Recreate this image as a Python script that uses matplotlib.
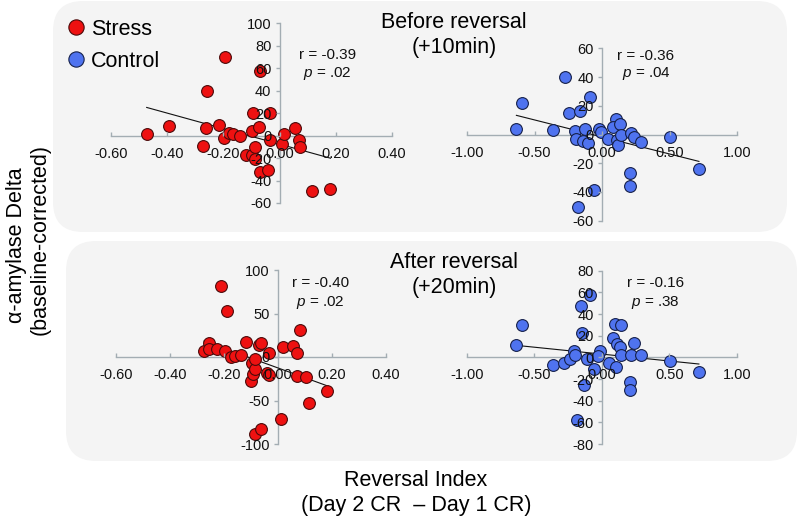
import numpy as np
import matplotlib
matplotlib.use("Agg")
import matplotlib.pyplot as plt
from matplotlib.patches import FancyBboxPatch
from matplotlib.lines import Line2D

plt.rcParams['font.family'] = ['Liberation Sans', 'DejaVu Sans']
plt.rcParams['mathtext.fontset'] = 'custom'
plt.rcParams['mathtext.it'] = 'Liberation Sans:italic'
plt.rcParams['mathtext.rm'] = 'Liberation Sans'

# ---------------- data ----------------
stress_before_x = [-0.473, -0.393, -0.260, -0.194, -0.262, -0.274, -0.217, -0.198, -0.179, -0.165,
                   -0.141, -0.120, -0.099, -0.096, -0.099, -0.075, -0.087, -0.089, -0.068, -0.068,
                   -0.040, -0.035, -0.035, 0.010, 0.017, 0.055, 0.069, 0.072, 0.114, 0.181]
stress_before_y = [1.3, 8.7, 39.6, 70.4, 6.4, -9.0, 9.6, -2.2, 2.2, 1.6,
                   -0.7, -17.6, -17.6, 19.7, 3.7, 7.3, -10.2, -20.6, 57.9, -32.7,
                   -30.4, 19.7, -3.7, -7.9, 1.3, 6.4, -3.7, -10.2, -49.0, -47.6]

control_before_x = [-0.634, -0.589, -0.361, -0.277, -0.243, -0.163, -0.089, -0.198, -0.193, -0.129,
                    -0.139, -0.104, -0.059, -0.178, -0.025, -0.010, 0.045, 0.104, 0.084, 0.134,
                    0.109, 0.119, 0.144, 0.218, 0.238, 0.287, 0.208, 0.208, 0.505, 0.718]
control_before_y = [4.1, 21.7, 3.1, 40.3, 15.2, 16.6, 25.9, 2.7, -2.9, 4.1,
                    -4.3, -6.1, -38.6, -50.2, 4.1, 1.7, -2.9, 10.6, 5.0, 7.3,
                    -3.8, -7.5, -0.6, 0.8, -2.0, -5.2, -26.6, -35.6, -2.0, -24.0]

stress_after_x = [-0.274, -0.257, -0.257, -0.227, -0.210, -0.190, -0.195, -0.175, -0.160, -0.138,
                  -0.119, -0.099, -0.091, -0.096, -0.086, -0.086, -0.072, -0.062, -0.032, -0.040,
                  -0.032, -0.086, -0.064, 0.010, 0.017, 0.057, 0.072, 0.081, 0.072, 0.104,
                  0.114, 0.180]
stress_after_y = [7.3, 16.4, 8.8, 8.8, 81.3, 53.1, 7.3, -0.4, 1.1, 2.7,
                  17.2, -27.1, -19.5, -6.5, -13.4, -2.7, 13.4, 15.6, 5.0, -17.9,
                  -21.0, -88.2, -82.8, -71.4, 11.8, 12.6, 5.0, 30.9, -21.8, -23.3,
                  -52.3, -39.3]

control_after_x = [-0.634, -0.589, -0.361, -0.277, -0.233, -0.208, -0.198, -0.153, -0.089, -0.144,
                   -0.109, -0.129, -0.059, -0.183, -0.010, -0.025, 0.050, 0.099, 0.139, 0.084,
                   0.109, 0.134, 0.104, 0.139, 0.213, 0.238, 0.287, 0.208, 0.208, 0.505,
                   0.718]
control_after_y = [11.1, 30.2, -6.8, -5.5, -1.2, 6.2, 1.8, 47.4, 57.2, 22.2,
                   -1.8, -25.2, -10.5, -57.8, 6.2, 1.2, -5.5, 30.8, 29.5, 17.8,
                   12.3, 9.8, -8.6, 1.8, 1.8, 12.9, 1.8, -22.8, -30.2, -3.7,
                   -13.5]

# regression lines (slope, intercept) as drawn
fit_stress_before = (-69.1, -7.6)
fit_control_before = (-23.7, -1.7)
fit_stress_after = (-112.6, -12.6)
fit_control_after = (-12.75, 3.0)

stats_text = {
    'sb': ('r = -0.39', '.02'),
    'cb': ('r = -0.36', '.04'),
    'sa': ('r = -0.40', '.02'),
    'ca': ('r = -0.16', '.38'),
}

stress_xticks = [-0.6, -0.4, -0.2, 0.0, 0.2, 0.4]
control_xticks = [-1.0, -0.5, 0.0, 0.5, 1.0]
yticks_sb = list(range(-60, 101, 20))
yticks_cb = list(range(-60, 61, 20))
yticks_sa = list(range(-100, 101, 50))
yticks_ca = list(range(-80, 81, 20))

RED = '#ee1111'
RED_EDGE = '#4a0a0a'
BLUE = '#4f73ef'
BLUE_EDGE = '#15204a'
AXC = '#a3adb3'

W, H = 802, 517
fig = plt.figure(figsize=(W / 100, H / 100), dpi=100)

# background rounded panels
bg = fig.add_axes([0, 0, 1, 1], zorder=-5)
bg.set_xlim(0, W)
bg.set_ylim(H, 0)
bg.axis('off')
for (x0, y0, x1, y1) in [(53, 1, 787, 232), (66, 241, 797, 461)]:
    bg.add_patch(FancyBboxPatch((x0, y0), x1 - x0, y1 - y0,
                                boxstyle='round,pad=0,rounding_size=30',
                                facecolor='#f4f4f4', edgecolor='none'))


def pax(left, right, top, bottom):
    return fig.add_axes([left / W, 1 - bottom / H, (right - left) / W, (bottom - top) / H])


def style(ax, xt, yt, xlim, ylim):
    ax.set_facecolor('none')
    ax.set_axisbelow(False)
    ax.set_xlim(*xlim)
    ax.set_ylim(*ylim)
    for s in ['top', 'right']:
        ax.spines[s].set_visible(False)
    ax.spines['left'].set_position(('data', 0))
    ax.spines['bottom'].set_position(('data', 0))
    for s in ['left', 'bottom']:
        ax.spines[s].set_color(AXC)
        ax.spines[s].set_linewidth(1.0)
        ax.spines[s].set_zorder(1)
    ax.set_xticks(xt)
    ax.set_xticklabels(['%.2f' % v if abs(v) > 1e-9 else '0.00' for v in xt])
    ax.set_yticks(yt)
    ax.set_yticklabels([str(v) for v in yt])
    ax.tick_params(axis='x', direction='in', length=3, width=1, color=AXC,
                   labelsize=10.5, pad=8, labelcolor='#111111')
    ax.tick_params(axis='y', direction='out', length=3, width=1, color=AXC,
                   labelsize=10.5, pad=3, labelcolor='#111111')


def draw(ax, xs, ys, fit, fc, ec):
    xs = np.asarray(xs)
    xx = np.array([xs.min(), xs.max()])
    ax.plot(xx, fit[0] * xx + fit[1], color='#111111', lw=0.8, zorder=2.1)
    ax.scatter(xs, ys, s=72, facecolor=fc, edgecolor=ec, linewidth=0.8, zorder=2.2, clip_on=False)


def stats(ax, key, fx, fy1, fy2):
    r, p = stats_text[key]
    ax.text(fx, fy1, r, transform=ax.transAxes, ha='center', va='center', fontsize=11, color='#111111')
    ax.text(fx, fy2, '$p$ = ' + p, transform=ax.transAxes, ha='center', va='center', fontsize=11,
            color='#111111')


ax1 = pax(111, 392, 23.3, 203)
style(ax1, stress_xticks, yticks_sb, (-0.6, 0.4), (-60, 100))
draw(ax1, stress_before_x, stress_before_y, fit_stress_before, RED, RED_EDGE)
stats(ax1, 'sb', 0.769, 0.824, 0.723)

ax2 = pax(467, 737, 48.3, 220.7)
style(ax2, control_xticks, yticks_cb, (-1, 1), (-60, 60))
draw(ax2, control_before_x, control_before_y, fit_control_before, BLUE, BLUE_EDGE)
stats(ax2, 'cb', 0.663, 0.955, 0.851)

ax3 = pax(116, 386, 270, 444)
style(ax3, stress_xticks, yticks_sa, (-0.6, 0.4), (-100, 100))
draw(ax3, stress_after_x, stress_after_y, fit_stress_after, RED, RED_EDGE)
stats(ax3, 'sa', 0.756, 0.925, 0.816)

ax4 = pax(466.7, 737, 270.7, 444)
style(ax4, control_xticks, yticks_ca, (-1, 1), (-80, 80))
draw(ax4, control_after_x, control_after_y, fit_control_after, BLUE, BLUE_EDGE)
stats(ax4, 'ca', 0.697, 0.929, 0.819)

# titles
fig.text(454 / W, 1 - 23 / H, 'Before reversal', ha='center', va='center', fontsize=15.5)
fig.text(454 / W, 1 - 47 / H, '(+10min)', ha='center', va='center', fontsize=15.5)
fig.text(454 / W, 1 - 263 / H, 'After reversal', ha='center', va='center', fontsize=15.5)
fig.text(454 / W, 1 - 288 / H, '(+20min)', ha='center', va='center', fontsize=15.5)

# axis labels
fig.text(416 / W, 1 - 480 / H, 'Reversal Index', ha='center', va='center', fontsize=15.5)
fig.text(416 / W, 1 - 505 / H, '(Day 2 CR  \u2013 Day 1 CR)', ha='center', va='center', fontsize=15.5)
fig.text(17 / W, 1 - 245 / H, '\u03b1-amylase Delta', ha='center', va='center', fontsize=15.5,
         rotation=90)
fig.text(40 / W, 1 - 240 / H, '(baseline-corrected)', ha='center', va='center', fontsize=15.5,
         rotation=90)

# legend
handles = [Line2D([], [], ls='none', marker='o', markersize=11, markerfacecolor=RED,
                  markeredgecolor=RED_EDGE, markeredgewidth=0.8),
           Line2D([], [], ls='none', marker='o', markersize=11, markerfacecolor=BLUE,
                  markeredgecolor=BLUE_EDGE, markeredgewidth=0.8)]
fig.legend(handles, ['Stress', 'Control'], loc='upper left', bbox_to_anchor=(67.5 / W, 1 - 19 / H),
           frameon=False, fontsize=15.5, handlelength=0.8, handletextpad=0.3,
           labelspacing=0.5, borderpad=0, borderaxespad=0)

fig.savefig('out.png', dpi=100)
